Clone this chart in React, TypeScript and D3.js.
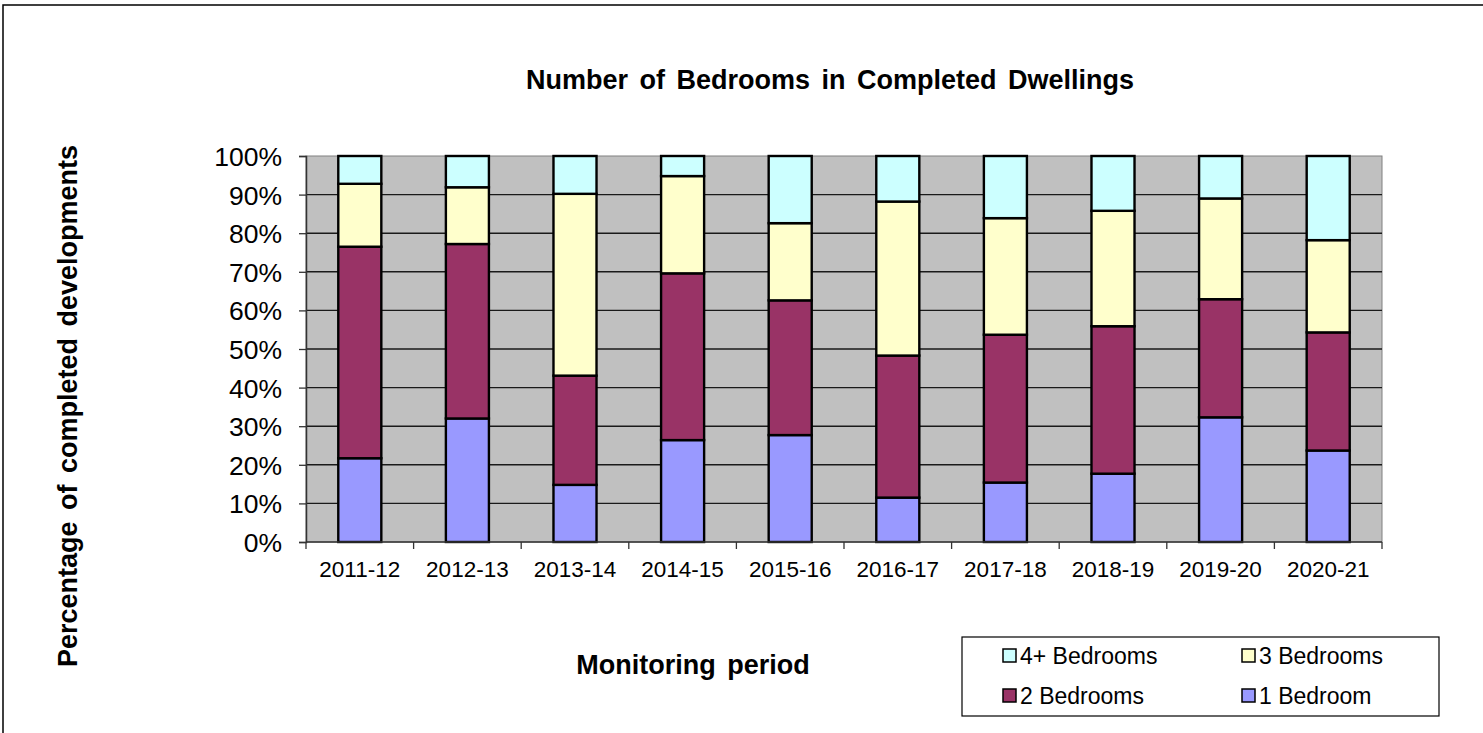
import { useEffect, useRef } from 'react';
import * as d3 from 'd3';

// Monitoring periods along the x axis
const PERIODS = [
  '2011-12', '2012-13', '2013-14', '2014-15', '2015-16',
  '2016-17', '2017-18', '2018-19', '2019-20', '2020-21',
];

// Share of completions per bedroom count (%)
const ONE_BED = [21.7, 32.0, 14.8, 26.4, 27.7, 11.5, 15.4, 17.7, 32.3, 23.7];
const TWO_BED = [54.8, 45.2, 28.3, 43.2, 34.9, 36.8, 38.3, 38.2, 30.6, 30.6];
const THREE_BED = [16.3, 14.7, 47.1, 25.2, 20.0, 39.9, 30.2, 29.9, 26.1, 23.9];
const FOUR_PLUS = [7.2, 8.1, 9.8, 5.2, 17.4, 11.8, 16.1, 14.2, 11.0, 21.8];

const Y_TICKS = [0, 10, 20, 30, 40, 50, 60, 70, 80, 90, 100];

// Stack order, bottom to top
const SERIES = [
  { key: '1 Bedroom', values: ONE_BED, color: '#9999FF' },
  { key: '2 Bedrooms', values: TWO_BED, color: '#993366' },
  { key: '3 Bedrooms', values: THREE_BED, color: '#FFFFCC' },
  { key: '4+ Bedrooms', values: FOUR_PLUS, color: '#CCFFFF' },
];

// Legend reading order (two columns)
const LEGEND_ORDER = ['4+ Bedrooms', '3 Bedrooms', '2 Bedrooms', '1 Bedroom'];

const FONT = '"Liberation Sans", Arial, sans-serif';

export default function App() {
  const svgRef = useRef<SVGSVGElement>(null);

  useEffect(() => {
    if (!svgRef.current) return;
    const W = 1483;
    const H = 733;
    const plot = { left: 306, top: 156, right: 1382, bottom: 542 };

    const svg = d3.select(svgRef.current);
    svg.selectAll('*').remove();
    svg.attr('width', W).attr('height', H);

    svg.append('rect').attr('width', W).attr('height', H).attr('fill', '#fff');
    // outer chart frame
    svg.append('rect')
      .attr('x', 3).attr('y', 5).attr('width', W + 10).attr('height', H + 10)
      .attr('fill', 'none').attr('stroke', '#000').attr('stroke-width', 1.5);

    const x = d3.scaleBand<string>().domain(PERIODS).range([plot.left, plot.right]).paddingInner(0.6).paddingOuter(0.3);
    const bandStep = d3.scaleBand<string>().domain(PERIODS).range([plot.left, plot.right]);
    const y = d3.scaleLinear().domain([0, 100]).range([plot.bottom, plot.top]);

    // plot area
    svg.append('rect')
      .attr('x', plot.left).attr('y', plot.top)
      .attr('width', plot.right - plot.left).attr('height', plot.bottom - plot.top)
      .attr('fill', '#C0C0C0').attr('stroke', '#808080').attr('stroke-width', 1);

    // gridlines
    svg.append('g')
      .selectAll('line')
      .data(Y_TICKS.filter((t) => t > 0 && t < 100))
      .join('line')
      .attr('x1', plot.left).attr('x2', plot.right)
      .attr('y1', (d) => y(d)).attr('y2', (d) => y(d))
      .attr('stroke', '#1a1a1a').attr('stroke-width', 1.4);

    // stacked bars
    const rows = PERIODS.map((p, i) => {
      const r: Record<string, number | string> = { period: p };
      SERIES.forEach((s) => { r[s.key] = s.values[i]; });
      return r;
    });
    const stack = d3.stack<Record<string, number | string>>()
      .keys(SERIES.map((s) => s.key))
      .value((d, k) => d[k] as number);
    const layers = stack(rows);

    svg.append('g')
      .selectAll('g')
      .data(layers)
      .join('g')
      .attr('fill', (_, i) => SERIES[i].color)
      .selectAll('rect')
      .data((d) => d)
      .join('rect')
      .attr('x', (d) => x(d.data.period as string)!)
      .attr('width', x.bandwidth())
      .attr('y', (d) => y(Math.min(d[1], 100)))
      .attr('height', (d) => y(d[0]) - y(Math.min(d[1], 100)))
      .attr('stroke', '#000').attr('stroke-width', 2.4);

    // y axis
    const yAxis = svg.append('g')
      .attr('transform', `translate(${plot.left},0)`)
      .call(d3.axisLeft(y).tickValues(Y_TICKS).tickSize(7).tickPadding(17).tickFormat((d) => `${d}%`));
    yAxis.select('.domain').attr('stroke', '#333').attr('stroke-width', 1.5);
    yAxis.selectAll('.tick line').attr('stroke', '#333').attr('stroke-width', 1.3);
    yAxis.selectAll('.tick text')
      .attr('font-family', FONT).attr('font-size', 26.5).attr('fill', '#000').attr('dy', '0.36em');

    // x axis line and boundary ticks
    svg.append('line')
      .attr('x1', plot.left).attr('x2', plot.right)
      .attr('y1', plot.bottom).attr('y2', plot.bottom)
      .attr('stroke', '#333').attr('stroke-width', 1.5);
    svg.append('g')
      .selectAll('line')
      .data([...PERIODS.map((p) => bandStep(p)!), plot.right])
      .join('line')
      .attr('x1', (d) => d).attr('x2', (d) => d)
      .attr('y1', plot.bottom).attr('y2', plot.bottom + 7)
      .attr('stroke', '#333').attr('stroke-width', 1.3);
    svg.append('g')
      .selectAll('text')
      .data(PERIODS)
      .join('text')
      .attr('x', (d) => bandStep(d)! + bandStep.bandwidth() / 2)
      .attr('y', 577)
      .attr('text-anchor', 'middle')
      .attr('font-family', FONT).attr('font-size', 22.5)
      .text((d) => d);

    // titles
    svg.append('text')
      .attr('x', 830).attr('y', 89)
      .attr('text-anchor', 'middle')
      .attr('font-family', FONT).attr('font-size', 27).attr('font-weight', 'bold')
      .attr('word-spacing', 4)
      .text('Number of Bedrooms in Completed Dwellings');

    svg.append('text')
      .attr('transform', 'translate(77,406) rotate(-90)')
      .attr('text-anchor', 'middle')
      .attr('font-family', FONT).attr('font-size', 27).attr('font-weight', 'bold')
      .attr('word-spacing', 4)
      .text('Percentage of completed developments');

    svg.append('text')
      .attr('x', 693).attr('y', 674)
      .attr('text-anchor', 'middle')
      .attr('font-family', FONT).attr('font-size', 27).attr('font-weight', 'bold')
      .attr('word-spacing', 4)
      .text('Monitoring period');

    // legend
    const legend = svg.append('g');
    legend.append('rect')
      .attr('x', 962).attr('y', 637).attr('width', 477).attr('height', 79)
      .attr('fill', '#fff').attr('stroke', '#000').attr('stroke-width', 1.2);
    const items = LEGEND_ORDER.map((k) => SERIES.find((s) => s.key === k)!);
    const li = legend.selectAll('g')
      .data(items)
      .join('g')
      .attr('transform', (_, i) => `translate(${i % 2 === 0 ? 1003 : 1242},${i < 2 ? 656 : 696})`);
    li.append('rect')
      .attr('x', 0).attr('y', -7).attr('width', 13).attr('height', 13)
      .attr('fill', (d) => d.color).attr('stroke', '#000').attr('stroke-width', 1.5);
    li.append('text')
      .attr('x', 17).attr('y', 0).attr('dy', '0.36em')
      .attr('font-family', FONT).attr('font-size', 23)
      .text((d) => d.key);
  }, []);

  return <svg ref={svgRef} style={{ position: 'absolute', left: 0, top: 0, display: 'block' }} />;
}
